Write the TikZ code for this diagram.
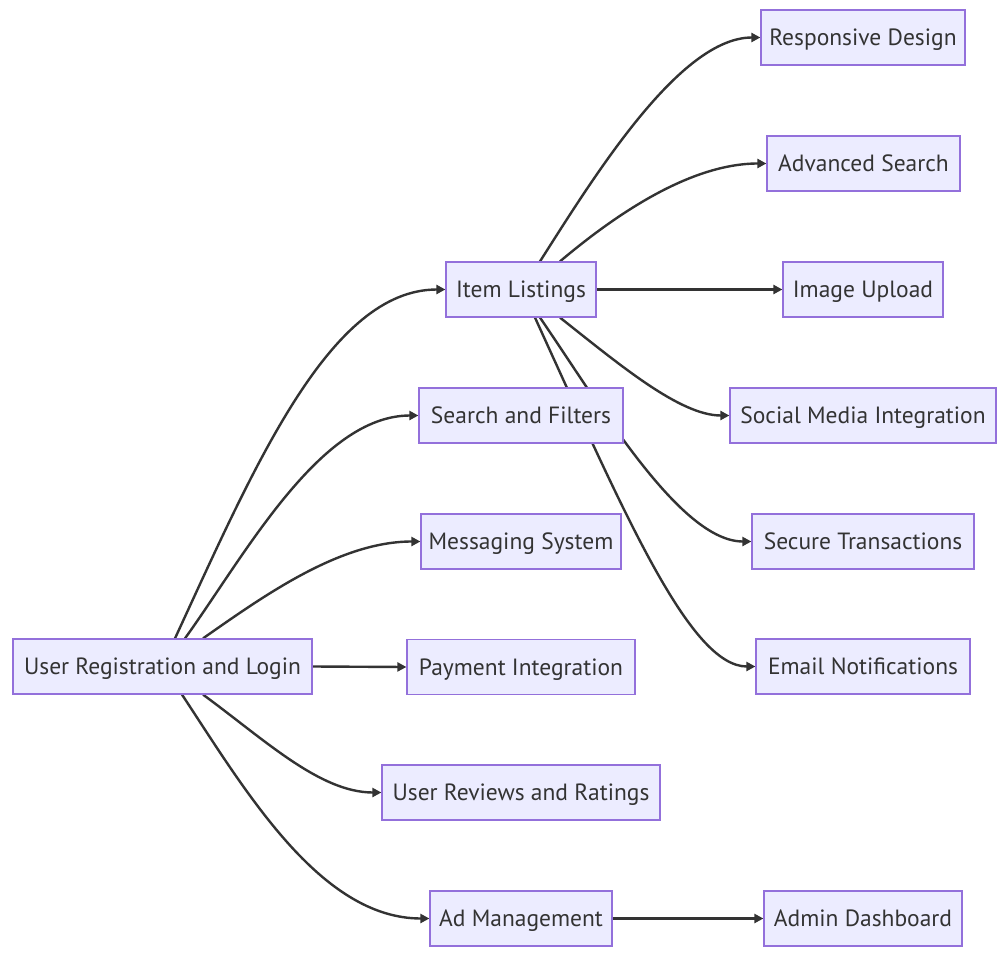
\documentclass[tikz,border=0pt]{standalone}
\usepackage{fontspec}
\setmainfont{PT Sans}
\usetikzlibrary{arrows.meta}
\definecolor{boxfill}{HTML}{ECECFF}
\definecolor{boxline}{HTML}{9370DB}
\definecolor{ink}{HTML}{333333}
\pgfdeclarelayer{bg}
\pgfsetlayers{bg,main}
\tikzset{
  box/.style={draw=boxline, fill=boxfill, line width=1.2pt, inner sep=0pt,
    minimum height=55pt, text=ink, font=\fontsize{23.5}{28}\selectfont,
    text height=18pt, text depth=2pt},
  link/.style={draw=ink, line width=2.4pt, -{Triangle[length=9pt,width=9pt]}}
}
\begin{document}
\begin{tikzpicture}[x=1pt,y=-1pt]
\useasboundingbox (0,0) rectangle (1005,958);
% nodes
\node[box, minimum width=299pt] (ur) at (162.5,666.5) {User Registration and Login};
\node[box, minimum width=150pt] (il) at (521,289.5) {Item Listings};
\node[box, minimum width=204pt] (sf) at (521,415.5) {Search and Filters};
\node[box, minimum width=200pt] (ms) at (521,541.5) {Messaging System};
\node[box, minimum width=228pt] (pi) at (521,667) {Payment Integration};
\node[box, minimum width=278pt] (rr) at (521,792.5) {User Reviews and Ratings};
\node[box, minimum width=182pt] (am) at (521,918.5) {Ad Management};
\node[box, minimum width=204pt] (rd) at (863,37.5) {Responsive Design};
\node[box, minimum width=193pt] (as) at (863.5,163.5) {Advanced Search};
\node[box, minimum width=160pt] (iu) at (863,289.5) {Image Upload};
\node[box, minimum width=266pt] (sm) at (863,415.5) {Social Media Integration};
\node[box, minimum width=222pt] (st) at (863,541.5) {Secure Transactions};
\node[box, minimum width=214pt] (en) at (863,666.5) {Email Notifications};
\node[box, minimum width=198pt] (ad) at (863,918.5) {Admin Dashboard};
% edges
\begin{pgfonlayer}{bg}
\fill[white] (0,0) rectangle (1005,958);
\path[link] ([xshift=12.5pt]ur.north) .. controls (255,465) and (330,289.5) .. (il.west);
\path[link] ([xshift=22.5pt]ur.north) .. controls (245,555) and (320,415.5) .. (sf.west);
\path[link] ([xshift=40.5pt]ur.north) .. controls (265,595) and (340,541.5) .. (ms.west);
\path[link] (ur.east) -- (pi.west);
\path[link] ([xshift=40.5pt]ur.south) .. controls (265,740) and (320,792.5) .. (rr.west);
\path[link] ([xshift=19.5pt]ur.south) .. controls (245,790) and (320,918.5) .. (am.west);
\path[link] ([xshift=19pt]il.north) .. controls (595,175) and (680,37.5) .. (rd.west);
\path[link] ([xshift=39pt]il.north) .. controls (615,215) and (690,163.5) .. (as.west);
\path[link] (il.east) -- (iu.west);
\path[link] ([xshift=39pt]il.south) .. controls (620,365) and (680,415.5) .. (sm.west);
\path[link] ([xshift=19pt]il.south) .. controls (600,405) and (680,541.5) .. (st.west);
\path[link] ([xshift=14pt]il.south) .. controls (625,515) and (690,666.5) .. (en.west);
\path[link] (am.east) -- (ad.west);
\end{pgfonlayer}
\end{tikzpicture}
\end{document}
